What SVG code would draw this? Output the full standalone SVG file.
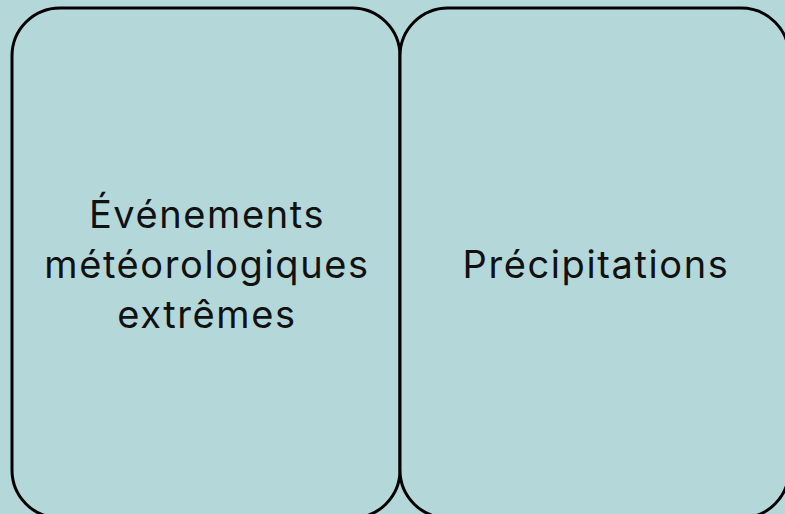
<svg xmlns="http://www.w3.org/2000/svg" width="785" height="514" viewBox="0 0 785 514">
<style>
.box{fill:#b4d8d9;stroke:#000;stroke-width:3}
.lbl{font-family:Inter,"Open Sans",sans-serif;font-size:38px;letter-spacing:1.6px;fill:#111;text-anchor:middle}
</style>
<rect x="0" y="0" width="785" height="514" fill="#b4d8d9"/>
<g id="node-evenements">
<rect class="box" x="12" y="8" width="388" height="510" rx="48" ry="48"/>
<text class="lbl" x="207" y="228">Événements</text>
<text class="lbl" x="207" y="278">météorologiques</text>
<text class="lbl" x="207" y="328">extrêmes</text>
</g>
<g id="node-precipitations">
<rect class="box" x="400" y="8" width="389" height="510" rx="48" ry="48"/>
<text class="lbl" x="596" y="278">Précipitations</text>
</g>
<g id="connectors"></g>
</svg>
